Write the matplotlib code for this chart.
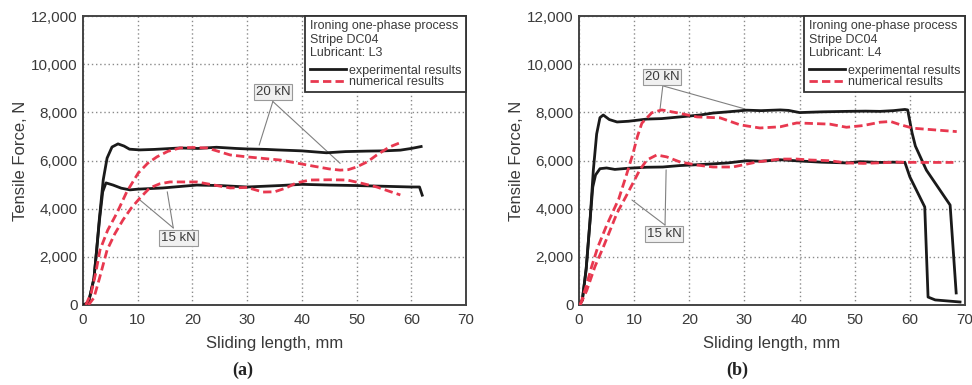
import matplotlib
matplotlib.use("Agg")
import matplotlib.pyplot as plt
from matplotlib.ticker import FuncFormatter

plt.rcParams['font.family'] = ['Liberation Sans', 'DejaVu Sans']

# ---------------- Panel (a): Lubricant L3 ----------------
a_exp20_x = [0, 1, 2, 2.5, 3.0, 3.7, 4.4, 5.3, 6.4, 7.5, 8.5, 10.4, 13, 17.7, 21, 24.4, 28, 30, 33.6, 35.5, 40, 44.5, 48, 51.9, 55, 58, 60, 61.8]
a_exp20_y = [0, 100, 1100, 2300, 3600, 5200, 6100, 6560, 6690, 6600, 6470, 6440, 6460, 6520, 6500, 6550, 6500, 6480, 6460, 6440, 6400, 6320, 6370, 6390, 6400, 6430, 6500, 6580]

a_exp15_x = [0, 1, 2, 2.5, 3.0, 3.6, 4.2, 5.5, 7, 8.6, 10, 14.6, 20.8, 25, 30, 36, 40, 45, 50, 55, 60, 61.5, 62]
a_exp15_y = [0, 100, 1100, 2300, 3500, 4700, 5070, 4980, 4850, 4780, 4810, 4860, 4980, 4960, 4900, 4960, 5010, 4980, 4960, 4930, 4900, 4900, 4560]

a_num20_x = [0.5, 1.5, 2.3, 3.1, 4.5, 6.2, 8.0, 10.1, 11.8, 13.5, 15.5, 17.7, 20, 22.7, 26.9, 30, 36, 42, 45, 47, 48.5, 50, 52, 53.7, 56, 58.3]
a_num20_y = [0, 500, 1300, 2280, 3100, 3820, 4700, 5480, 5880, 6150, 6380, 6520, 6540, 6520, 6230, 6150, 6020, 5770, 5650, 5600, 5620, 5730, 5950, 6230, 6560, 6770]

a_num15_x = [1, 2, 3, 4.4, 5.8, 7.3, 8.8, 10.4, 12.2, 14, 15.9, 20.8, 26.9, 30, 32.9, 35, 37, 39, 41.5, 45, 48.3, 51, 53.7, 56, 58]
a_num15_y = [0, 300, 1100, 2280, 2950, 3530, 4020, 4440, 4860, 5030, 5110, 5110, 4860, 4880, 4690, 4700, 4850, 5070, 5190, 5200, 5190, 5050, 4900, 4720, 4570]

# ---------------- Panel (b): Lubricant L4 ----------------
b_exp20_x = [0, 0.6, 1.3, 2.0, 2.6, 3.2, 3.8, 4.4, 5.5, 6.9, 9, 12.3, 15, 18.3, 22, 24.3, 27, 30.4, 33, 36.5, 38, 40, 44, 48.5, 52, 54.6, 57, 59.1, 59.6, 60.4, 61, 63, 67.3, 68.4]
b_exp20_y = [0, 200, 1500, 3500, 5600, 7100, 7780, 7890, 7700, 7600, 7630, 7720, 7740, 7810, 7890, 7970, 8020, 8090, 8070, 8100, 8080, 7990, 8020, 8040, 8050, 8040, 8070, 8120, 8100, 7150, 6600, 5600, 4150, 500]

b_exp15_x = [0, 0.6, 1.3, 2.0, 2.5, 3.0, 3.8, 5, 6.5, 9, 12.3, 15.2, 18.3, 21, 24.3, 27, 30.4, 33, 36.5, 40, 44, 48.5, 51, 54.6, 57, 59.1, 60, 62.7, 63.3, 64.6, 69.1]
b_exp15_y = [0, 200, 1500, 3500, 4900, 5400, 5660, 5690, 5630, 5680, 5720, 5730, 5790, 5820, 5860, 5900, 5990, 5970, 6030, 5980, 5930, 5900, 5950, 5920, 5930, 5920, 5320, 4070, 330, 210, 125]

b_num20_x = [0.2, 1.2, 2.3, 3.4, 5, 7.2, 8.6, 9.8, 10.6, 11.4, 13.2, 15, 17.8, 21.4, 25.6, 29.2, 32.8, 36.5, 39.5, 45.5, 48.5, 51.5, 54.6, 56.5, 58.2, 60.6, 64, 68.5]
b_num20_y = [0, 700, 1600, 2400, 3300, 4400, 5400, 6300, 7000, 7550, 7980, 8100, 7980, 7810, 7770, 7480, 7350, 7400, 7560, 7510, 7380, 7450, 7590, 7620, 7490, 7340, 7280, 7200]

b_num15_x = [0.2, 1.4, 2.9, 4.4, 6.9, 8.5, 9.8, 11, 12.3, 14.1, 15.9, 18.3, 21.4, 24.3, 27.9, 30, 32.3, 36.5, 39.5, 42, 45.5, 48.5, 51.6, 54, 57.6, 62, 67.9]
b_num15_y = [0, 600, 1600, 2400, 3820, 4500, 5070, 5600, 6020, 6230, 6150, 5940, 5810, 5730, 5730, 5830, 5940, 6060, 6060, 6020, 5990, 5900, 5880, 5900, 5930, 5920, 5920]

# annotation anchors (text position, line start, line ends)
a_ann20 = dict(text=(34.7, 8850), start=(34.7, 8450), ends=[(32.2, 6640), (47.0, 5880)])
a_ann15 = dict(text=(17.4, 2780), start=(16.5, 3200), ends=[(15.4, 4700), (10.4, 4360)])
b_ann20 = dict(text=(15.05, 9470), start=(15.2, 9100), ends=[(14.7, 8140), (30.1, 8140)])
b_ann15 = dict(text=(15.4, 2950), start=(15.6, 3320), ends=[(15.8, 5610), (9.6, 4360)])

x_ticks = [0, 10, 20, 30, 40, 50, 60, 70]
y_ticks = [0, 2000, 4000, 6000, 8000, 10000, 12000]

RED = '#e8384f'
BLACK = '#1a1a1a'
TXT = '#3a3a3a'

fig = plt.figure(figsize=(9.72, 3.85), dpi=100)
ax_a = fig.add_axes([83/972, 80/385, 383/972, 289/385])
ax_b = fig.add_axes([579/972, 80/385, 386/972, 289/385])


def style(ax, lub):
    ax.set_xlim(0, 70)
    ax.set_ylim(0, 12000)
    ax.set_xticks(x_ticks)
    ax.set_yticks(y_ticks)
    ax.yaxis.set_major_formatter(FuncFormatter(lambda v, p: f"{v:,.0f}"))
    ax.tick_params(length=0, labelsize=11, labelcolor=TXT, pad=4)
    ax.tick_params(axis='x', pad=6)
    ax.grid(True, linestyle=(0, (1, 2)), color='#8a8a8a', linewidth=1.0)
    for s in ax.spines.values():
        s.set_color('#444444')
        s.set_linewidth(1.4)
    ax.set_xlabel('Sliding length, mm', fontsize=12, color=TXT, labelpad=6)
    ax.set_ylabel('Tensile Force, N', fontsize=12, color=TXT, labelpad=2)
    leg = ax.legend(title=f"Ironing one-phase process\nStripe DC04\nLubricant: {lub}",
                    loc='upper right', borderaxespad=0, alignment='left',
                    fontsize=9, title_fontsize=9, fancybox=False, framealpha=1,
                    borderpad=0.35, labelspacing=-0.05, handlelength=2.9,
                    handletextpad=0.25, edgecolor='#333333')
    leg._legend_box.sep = 4
    leg.get_frame().set_linewidth(1.3)
    for t in leg.get_texts():
        t.set_color(TXT)
    leg.get_title().set_color(TXT)
    leg.get_title().set_linespacing(1.15)


def annotate(ax, label, ann):
    for end in ann['ends']:
        ax.annotate('', xy=end, xytext=ann['start'],
                    arrowprops=dict(arrowstyle='-', color='#808080', lw=0.8,
                                    shrinkA=0, shrinkB=0), zorder=2)
    ax.text(*ann['text'], label, ha='center', va='center', fontsize=9.5, color=TXT,
            bbox=dict(boxstyle='square,pad=0.15', fc='#f0f0f0', ec='#999999', lw=0.8), zorder=5)


for ax, data, lub, anns in [
    (ax_a, (a_exp20_x, a_exp20_y, a_exp15_x, a_exp15_y, a_num20_x, a_num20_y, a_num15_x, a_num15_y), 'L3', (a_ann20, a_ann15)),
    (ax_b, (b_exp20_x, b_exp20_y, b_exp15_x, b_exp15_y, b_num20_x, b_num20_y, b_num15_x, b_num15_y), 'L4', (b_ann20, b_ann15)),
]:
    e20x, e20y, e15x, e15y, n20x, n20y, n15x, n15y = data
    ax.plot(e20x, e20y, color=BLACK, lw=2.0, label='experimental results', zorder=3)
    ax.plot(e15x, e15y, color=BLACK, lw=2.0, zorder=3)
    ax.plot(n20x, n20y, color=RED, lw=2.0, ls=(0, (3, 1.5)), label='numerical results', zorder=4)
    ax.plot(n15x, n15y, color=RED, lw=2.0, ls=(0, (3, 1.5)), zorder=4)
    style(ax, lub)
    annotate(ax, '20 kN', anns[0])
    annotate(ax, '15 kN', anns[1])

fig.text(243/972, 1 - 370/385, '(a)', ha='center', va='center', fontsize=13,
         fontweight='bold', family='Liberation Serif', color='#222222')
fig.text(737/972, 1 - 370/385, '(b)', ha='center', va='center', fontsize=13,
         fontweight='bold', family='Liberation Serif', color='#222222')

fig.savefig('out.png', dpi=100)
